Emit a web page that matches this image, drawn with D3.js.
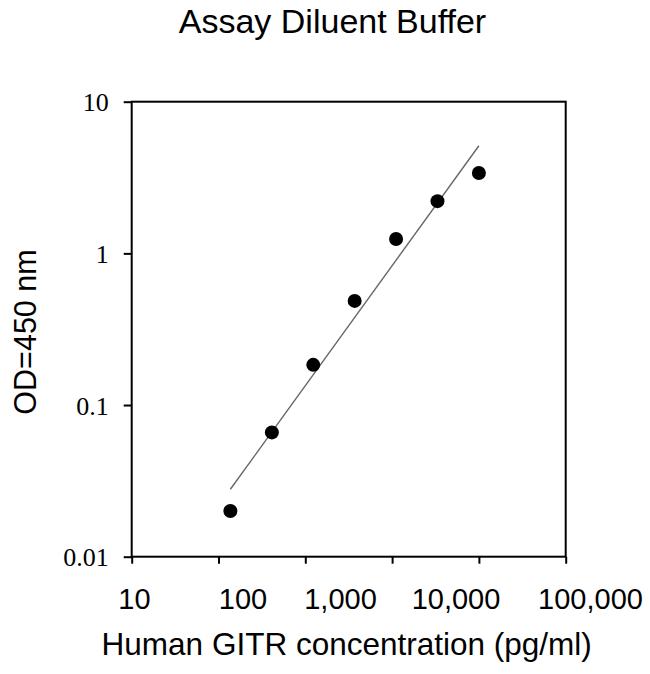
<!DOCTYPE html>
<html>
<head>
<meta charset="utf-8">
<script src="https://cdn.jsdelivr.net/npm/d3@7"></script>
<style>
  body { margin: 0; background: #fff; }
</style>
</head>
<body>
<div id="chart"></div>
<script>
// standard curve, 1:3 dilution series
var concentrations = [13.7, 41.2, 123.5, 370.4, 1111, 3333, 10000];
var odValues = [0.020, 0.066, 0.184, 0.486, 1.245, 2.21, 3.39];

var xTickValues = [1, 10, 100, 1000, 10000, 100000];
var xTickLabels = ["10", "100", "1,000", "10,000", "100,000"];
var yTickValues = [0.01, 0.1, 1, 10];
var yTickLabels = ["0.01", "0.1", "1", "10"];

function init ()
{
    var w = 650;
    var h = 674;
    var left = 131.7, right = 565.7, top = 101.7, bottom = 556.7;
    // where the x labels sit in the reference (they do not line up with the ticks)
    var labelX = [134.5, 243, 340.5, 456, 590.5];

    var svg = d3.select("#chart")
        .append("svg")
        .attr("width", w)
        .attr("height", h);

    var xScale = d3.scaleLog()
        .domain([1, 100000])
        .range([left, right]);

    var yScale = d3.scaleLog()
        .domain([0.01, 10])
        .range([bottom, top]);

    // frame
    svg.append("rect")
        .attr("x", left)
        .attr("y", top)
        .attr("width", right - left)
        .attr("height", bottom - top)
        .attr("fill", "none")
        .attr("stroke", "#000")
        .attr("stroke-width", 2);

    var xAxis = svg.append("g")
        .attr("transform", "translate(0," + bottom + ")")
        .call(d3.axisBottom(xScale)
            .tickValues(xTickValues)
            .tickFormat("")
            .tickSize(7)
            .tickSizeOuter(0));
    xAxis.select(".domain").remove();
    xAxis.selectAll("line").attr("stroke-width", 2);

    svg.selectAll(".xlabel")
        .data(xTickLabels)
        .enter()
        .append("text")
        .attr("class", "xlabel")
        .attr("x", function(d, i){ return labelX[i]; })
        .attr("y", 609)
        .attr("text-anchor", "middle")
        .style("font-family", "Liberation Sans, Arial, sans-serif")
        .style("font-size", "29px")
        .text(function(d){ return d; });

    var yAxis = svg.append("g")
        .attr("transform", "translate(" + left + ",0)")
        .call(d3.axisLeft(yScale)
            .tickValues(yTickValues)
            .tickFormat(function(d, i){ return yTickLabels[i]; })
            .tickSize(8)
            .tickPadding(15)
            .tickSizeOuter(0));
    yAxis.select(".domain").remove();
    yAxis.selectAll("line").attr("stroke-width", 2);
    yAxis.selectAll("text")
        .attr("fill", "#000")
        .attr("dy", "0.35em")
        .style("font-family", "Liberation Serif, Times New Roman, serif")
        .style("font-size", "26px");

    // least squares fit in log-log space
    var lx = concentrations.map(function(d){ return Math.log10(d); });
    var ly = odValues.map(function(d){ return Math.log10(d); });
    var mx = d3.mean(lx), my = d3.mean(ly);
    var sxy = d3.sum(lx, function(d, i){ return (d - mx) * (ly[i] - my); });
    var sxx = d3.sum(lx, function(d){ return (d - mx) * (d - mx); });
    var slope = sxy / sxx;
    var icpt = my - slope * mx;
    var fitX = d3.extent(concentrations);
    var fit = fitX.map(function(c){ return [c, Math.pow(10, icpt + slope * Math.log10(c))]; });

    svg.append("path")
        .datum(fit)
        .attr("fill", "none")
        .attr("stroke", "#666")
        .attr("stroke-width", 1.4)
        .attr("d", d3.line()
            .x(function(d){ return xScale(d[0]); })
            .y(function(d){ return yScale(d[1]); }));

    svg.selectAll("circle")
        .data(concentrations)
        .enter()
        .append("circle")
        .attr("cx", function(d){ return xScale(d); })
        .attr("cy", function(d, i){ return yScale(odValues[i]); })
        .attr("r", 7)
        .attr("fill", "#000");

    svg.append("text")
        .attr("x", 332.5)
        .attr("y", 33)
        .attr("text-anchor", "middle")
        .style("font-family", "Liberation Sans, Arial, sans-serif")
        .style("font-size", "34px")
        .text("Assay Diluent Buffer");

    svg.append("text")
        .attr("x", 346.7)
        .attr("y", 655)
        .attr("text-anchor", "middle")
        .style("font-family", "Liberation Sans, Arial, sans-serif")
        .style("font-size", "31.5px")
        .text("Human GITR concentration (pg/ml)");

    svg.append("text")
        .attr("transform", "translate(36,332) rotate(-90)")
        .attr("text-anchor", "middle")
        .style("font-family", "Liberation Sans, Arial, sans-serif")
        .style("font-size", "30.5px")
        .text("OD=450 nm");
}

window.onload = init;
</script>
</body>
</html>
